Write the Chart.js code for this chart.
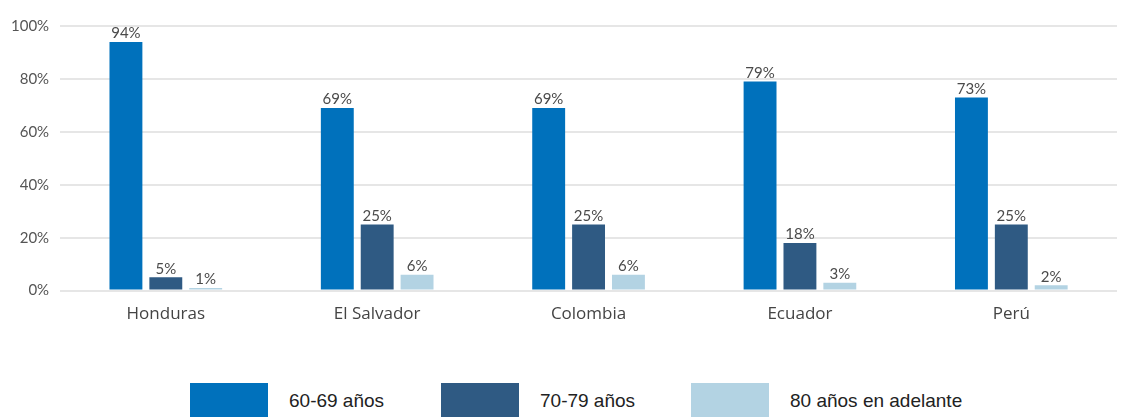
<!DOCTYPE html>
<html lang="es">
<head>
<meta charset="utf-8">
<script src="https://cdn.jsdelivr.net/npm/chart.js@4.4.1/dist/chart.umd.min.js"></script>
<style>
  html, body { margin: 0; padding: 0; background: #fff; }
  #wrap { position: relative; width: 1128px; height: 417px; overflow: hidden; }
  #chartBox { position: absolute; left: 0; top: 0; width: 1128px; height: 338px; }
  .leyenda-item { position: absolute; top: 383px; display: flex; align-items: flex-start; }
  .leyenda-caja { width: 78px; height: 36px; }
  .leyenda-texto { margin-left: 21px; margin-top: 7px; font: 19px "Liberation Sans", sans-serif; color: #222; white-space: nowrap; }
</style>
</head>
<body>
<div id="wrap">
  <div id="chartBox"><canvas id="barChart"></canvas></div>
  <div id="leyenda"></div>
</div>
<script>
// Datos
const paises = ["Honduras", "El Salvador", "Colombia", "Ecuador", "Perú"];
const edad60a69 = [94, 69, 69, 79, 73];
const edad70a79 = [5, 25, 25, 18, 25];
const edad80mas = [1, 6, 6, 3, 2];
const nombresSeries = ["60-69 años", "70-79 años", "80 años en adelante"];
const ticksY = [0, 20, 40, 60, 80, 100];

const colores = ["#0071bc", "#2f5a83", "#b3d3e3"];
const FUENTE = "Lato, 'Open Sans', sans-serif";

// Etiquetas de valor sobre las barras
const etiquetasValor = {
  id: "etiquetasValor",
  afterDatasetsDraw(chart) {
    const ctx = chart.ctx;
    ctx.save();
    ctx.font = "15px " + FUENTE;
    ctx.fillStyle = "#4a4a4a";
    ctx.textAlign = "center";
    ctx.textBaseline = "bottom";
    chart.data.datasets.forEach((ds, i) => {
      chart.getDatasetMeta(i).data.forEach((bar, j) => {
        ctx.fillText(ds.data[j] + "%", bar.x, bar.y - 1);
      });
    });
    ctx.restore();
  }
};

const ctxBar = document.getElementById("barChart").getContext("2d");
new Chart(ctxBar, {
  type: "bar",
  data: {
    labels: paises,
    datasets: [
      { label: nombresSeries[0], data: edad60a69, backgroundColor: colores[0] },
      { label: nombresSeries[1], data: edad70a79, backgroundColor: colores[1] },
      { label: nombresSeries[2], data: edad80mas, backgroundColor: colores[2] }
    ]
  },
  options: {
    responsive: true,
    maintainAspectRatio: false,
    animation: false,
    layout: { padding: { top: 26, left: 0, right: 11, bottom: 9 } },
    datasets: { bar: { categoryPercentage: 0.566, barPercentage: 0.825 } },
    plugins: {
      legend: { display: false },
      tooltip: { enabled: false }
    },
    scales: {
      x: {
        grid: { display: false },
        border: { display: false },
        ticks: { padding: 5, color: "#444", font: { size: 17, family: "'Open Sans', sans-serif" } }
      },
      y: {
        min: 0,
        max: 100,
        afterBuildTicks: (scale) => { scale.ticks = ticksY.map(v => ({ value: v })); },
        grid: { color: "#e6e6e6", lineWidth: 2, drawTicks: false },
        border: { display: false },
        ticks: {
          padding: 11,
          color: "#555",
          font: { size: 15, family: FUENTE },
          callback: (v) => v + "%"
        }
      }
    }
  },
  plugins: [etiquetasValor]
});

// Leyenda inferior
const posLeyenda = [190, 441, 691];
const leyenda = document.getElementById("leyenda");
nombresSeries.forEach((nombre, i) => {
  const item = document.createElement("div");
  item.className = "leyenda-item";
  item.style.left = posLeyenda[i] + "px";
  item.innerHTML = `<div class="leyenda-caja" style="background:${colores[i]}"></div><div class="leyenda-texto">${nombre}</div>`;
  leyenda.appendChild(item);
});
</script>
</body>
</html>
